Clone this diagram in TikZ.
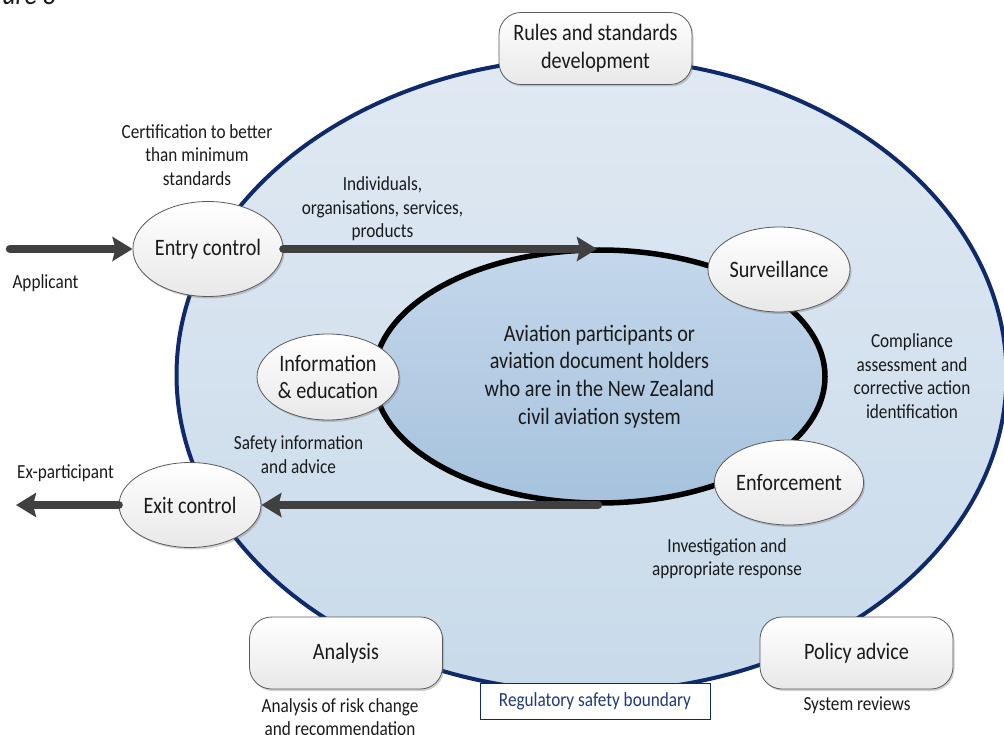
\documentclass[tikz,border=0pt]{standalone}
\usepackage{fontspec}
\setmainfont{Carlito}[FakeStretch=0.86]
\usetikzlibrary{shapes.geometric,arrows.meta,shadows}
\definecolor{cNavy}{HTML}{0E2A6B}
\definecolor{cBoundTop}{HTML}{E0E9F3}
\definecolor{cBoundBot}{HTML}{C8DAEA}
\definecolor{cCoreTop}{HTML}{C4D7EB}
\definecolor{cCoreBot}{HTML}{A6C2DD}
\definecolor{cArrow}{HTML}{404040}
\definecolor{cText}{HTML}{1A1A1A}
\definecolor{cEdge}{HTML}{5A5A5A}
\definecolor{cLabel}{HTML}{1F3B7B}
\tikzset{>=stealth}
\tikzset{
	bigfont/.style={font={\fontsize{23.5}{27.7}\selectfont}},
	smallfont/.style={font={\fontsize{20}{23.5}\selectfont}},
	activity/.style={ellipse, draw=cEdge, line width=0.8pt, top color=white, bottom color=black!9,
		minimum width=142pt, minimum height=85pt, inner sep=0pt, bigfont, text=cText, align=center,
		drop shadow={shadow xshift=1.5pt, shadow yshift=-2pt, opacity=0.3, fill=black!60}},
	function/.style={rectangle, rounded corners=22pt, draw=cEdge, line width=0.8pt, top color=white, bottom color=black!9,
		minimum width=193pt, minimum height=72pt, inner sep=0pt, bigfont, text=cText, align=center,
		drop shadow={shadow xshift=1.5pt, shadow yshift=-2pt, opacity=0.3, fill=black!60}},
	note/.style={smallfont, text=cText, align=center, inner sep=0pt},
	flow/.style={draw=cArrow, line width=8.5pt, line cap=round, -{Stealth[length=20pt,width=24pt,inset=3pt]}}
}

\begin{document}
\begin{tikzpicture}[x=1pt, y=-1pt]
		\useasboundingbox (0,0) rectangle (1004,735);
		
		%figure caption, cut by the page
		\node[anchor=base east, font={\fontsize{30}{30}\selectfont\itshape}, text=cText, inner sep=0pt] (figTitle) at (56,5) {Figure 8};
		
		%regulatory safety boundary
		\node[ellipse, draw=cNavy, line width=4pt, top color=cBoundTop, bottom color=cBoundBot,
			minimum width=830pt, minimum height=634pt] (boundary) at (591.5,375) {};
		%aviation system
		\node[ellipse, draw=black, line width=5.5pt, top color=cCoreTop, bottom color=cCoreBot,
			minimum width=451pt, minimum height=253pt, bigfont, text=cText, align=center] (core) at (599.5,376.5)
			{Aviation participants or\\aviation document holders\\who are in the New Zealand\\civil aviation system};
		
		%activities
		\node[activity, minimum height=95pt] (entry) at (208,249) {Entry control};
		\node[activity] (surveil) at (779,269.5) {Surveillance};
		\node[activity] (enforce) at (789,482.5) {Enforcement};
		\node[activity, minimum height=86pt] (info) at (328,377) {Information\\\& education};
		\node[activity] (exit) at (190,505) {Exit control};
		
		%free ends of the arrows
		\coordinate (applicant) at (10,249);
		\coordinate (entryTip) at (597,249);
		\coordinate (exitStart) at (598,505);
		\coordinate (exParticipant) at (16,505);
		
		\draw [flow] (applicant) -- (entry);
		\draw [flow] (entry) -- (entryTip);
		\draw [flow] (exitStart) -- (exit);
		\draw [flow] (exit) -- (exParticipant);
		
		%functions
		\node[function] (rules) at (595.5,48.5) {Rules and standards\\development};
		\node[function] (analysis) at (346,653) {Analysis};
		\node[function] (policy) at (856.5,653) {Policy advice};
		\node[draw=cNavy, line width=0.8pt, fill=white, minimum width=230pt, minimum height=36pt, inner sep=0pt,
			smallfont, text=cLabel] (boundLabel) at (595,701) {Regulatory safety boundary};
		
		%notes
		\node[note] (certNote) at (197,155) {Certification to better\\than minimum\\standards};
		\node[note] (applNote) at (45.5,283) {Applicant};
		\node[note] (indivNote) at (382.5,209) {Individuals,\\organisations, services,\\products};
		\node[note] (safetyNote) at (298.5,454.5) {Safety information\\and advice};
		\node[note] (exNote) at (65.5,473) {Ex-participant};
		\node[note] (compNote) at (912,376) {Compliance\\assessment and\\corrective action\\identification};
		\node[note] (investNote) at (727,558.5) {Investigation and\\appropriate response};
		\node[note] (riskNote) at (340,717) {Analysis of risk change\\and recommendation};
		\node[note] (sysNote) at (857,705) {System reviews};
		
\end{tikzpicture}
\end{document}
